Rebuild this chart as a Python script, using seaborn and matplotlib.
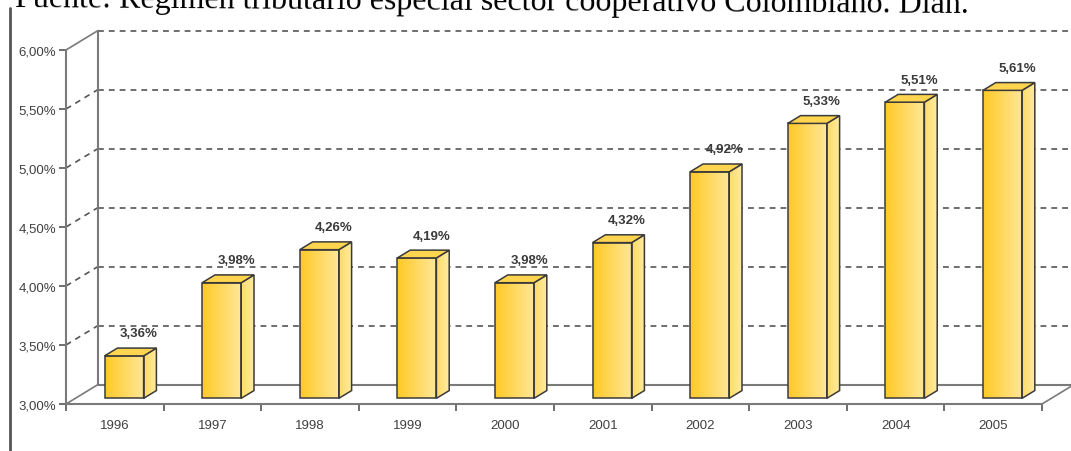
import matplotlib.pyplot as plt
import numpy as np
import pandas as pd
import seaborn as sns
from matplotlib.colors import LinearSegmentedColormap
from matplotlib.lines import Line2D
from matplotlib.patches import Polygon

# Data
years = ["1996", "1997", "1998", "1999", "2000",
         "2001", "2002", "2003", "2004", "2005"]
values = [3.36, 3.98, 4.26, 4.19, 3.98, 4.32, 4.92, 5.33, 5.51, 5.61]
value_labels = ["3,36%", "3,98%", "4,26%", "4,19%", "3,98%",
                "4,32%", "4,92%", "5,33%", "5,51%", "5,61%"]
y_ticks = [3.0, 3.5, 4.0, 4.5, 5.0, 5.5, 6.0]
y_tick_labels = ["3,00%", "3,50%", "4,00%", "4,50%", "5,00%", "5,50%", "6,00%"]
source_text = "Fuente: Régimen tributario especial sector cooperativo Colombiano. Dian."

df = pd.DataFrame({"year": years, "value": values})

sns.set_style("white")
plt.rcParams["font.family"] = ["Liberation Sans", "DejaVu Sans"]

fig = plt.figure(figsize=(10.71, 4.52), dpi=100)
ax = fig.add_axes([66 / 1071, 47 / 452, 976 / 1071, 354 / 452])

# depth direction of the 3D box (category units, percent units)
DX, DY = 0.328, 0.165
front_f, depth_f = 0.29, 0.40
bar_w = 0.40

sns.barplot(data=df, x="year", y="value", width=bar_w, ax=ax,
            color="#FFD24A", edgecolor="#3a3a3a", linewidth=1.1, zorder=5)

ax.set_xlim(-0.5, len(years) - 0.5)
ax.set_ylim(3.0, 6.0)

frame_col = "#7a7a7a"
grid_col = "#555555"

# back wall and side wall
x0, x1 = -0.5, len(years) - 0.5
for lvl in y_ticks:
    solid = lvl in (3.0, 6.0)
    ls = "-" if solid else (0, (3.5, 3))
    col = frame_col if solid else grid_col
    ax.add_line(Line2D([x0, x0 + DX], [lvl, lvl + DY], color=col, lw=1.2,
                       ls=ls, clip_on=False, zorder=1))
    if lvl > 3.0:
        ax.add_line(Line2D([x0 + DX, x1 + DX], [lvl + DY, lvl + DY],
                           color=grid_col, lw=1.2, ls=(0, (3.5, 3)),
                           clip_on=False, zorder=1))
ax.add_line(Line2D([x0 + DX, x1 + DX], [3.0 + DY, 3.0 + DY], color=frame_col,
                   lw=1.5, clip_on=False, zorder=1))
ax.add_line(Line2D([x0 + DX, x0 + DX], [3.0 + DY, 6.0 + DY], color=frame_col,
                   lw=1.5, clip_on=False, zorder=1))
ax.add_line(Line2D([x1, x1 + DX], [3.0, 3.0 + DY], color=frame_col,
                   lw=1.2, clip_on=False, zorder=1))

front_cmap = LinearSegmentedColormap.from_list("front", ["#FFC925", "#FFE89A"])
side_cmap = LinearSegmentedColormap.from_list("side", ["#FFDB66", "#FFEBA0"])
grad = np.linspace(0, 1, 64).reshape(1, -1)

fdx, fdy = DX * front_f, DY * front_f
ddx, ddy = DX * depth_f, DY * depth_f

for patch, v, lab in zip(ax.patches, values, value_labels):
    xl = patch.get_x() + fdx
    patch.set_x(xl)
    patch.set_y(3.0 + fdy)
    patch.set_height(v - 3.0)
    patch.set_facecolor("none")
    xr = xl + patch.get_width()
    yb, yt = 3.0 + fdy, v + fdy

    im = ax.imshow(grad, extent=[xl, xr, yb, yt], cmap=front_cmap,
                   aspect="auto", zorder=4.9)
    im.set_clip_path(patch)

    side = Polygon([(xr, yb), (xr + ddx, yb + ddy), (xr + ddx, yt + ddy), (xr, yt)],
                   closed=True, facecolor="none", edgecolor="#3a3a3a",
                   lw=1.1, zorder=5)
    ax.add_patch(side)
    im2 = ax.imshow(grad, extent=[xr, xr + ddx, yb, yt + ddy], cmap=side_cmap,
                    aspect="auto", zorder=4.9)
    im2.set_clip_path(side)

    top = Polygon([(xl, yt), (xr, yt), (xr + ddx, yt + ddy), (xl + ddx, yt + ddy)],
                  closed=True, facecolor="#FFD54F", edgecolor="#3a3a3a",
                  lw=1.1, zorder=5)
    ax.add_patch(top)

    ax.text((xl + xr) / 2 + 0.15, v + fdy + 0.19, lab, ha="center", va="center",
            fontsize=9.5, fontweight="bold", color="#3a3a3a", zorder=6)

ax.set_xlim(-0.5, len(years) - 0.5)
ax.set_ylim(3.0, 6.0)

# axes styling
for s in ["top", "right"]:
    ax.spines[s].set_visible(False)
for s in ["left", "bottom"]:
    ax.spines[s].set_color(frame_col)
    ax.spines[s].set_linewidth(1.5)

ax.set_yticks(y_ticks)
ax.set_yticklabels(y_tick_labels, fontsize=9.5, color="#404040")
ax.tick_params(axis="y", length=5, width=1.2, color="#555555", pad=2, left=True)

ax.set_xticks(range(len(years)))
ax.set_xticklabels(years, fontsize=9.5, color="#404040")
ax.tick_params(axis="x", which="major", length=0, pad=11)
ax.set_xticks(np.arange(-0.5, len(years)), minor=True)
ax.tick_params(axis="x", which="minor", length=5, width=1.2, color="#555555",
               bottom=True)
ax.set_xlabel("")
ax.set_ylabel("")

# page details around the chart
fig.add_artist(Line2D([10 / 1071, 10 / 1071], [0, 1 - 9 / 452],
                      transform=fig.transFigure, color="#555555", lw=2))
fig.text(15 / 1071, 1 - 7 / 452, source_text, fontsize=23,
         family=["Liberation Serif", "DejaVu Serif"], color="black",
         ha="left", va="baseline", rotation=-0.36, rotation_mode="anchor")

fig.savefig("out.png", dpi=100)
